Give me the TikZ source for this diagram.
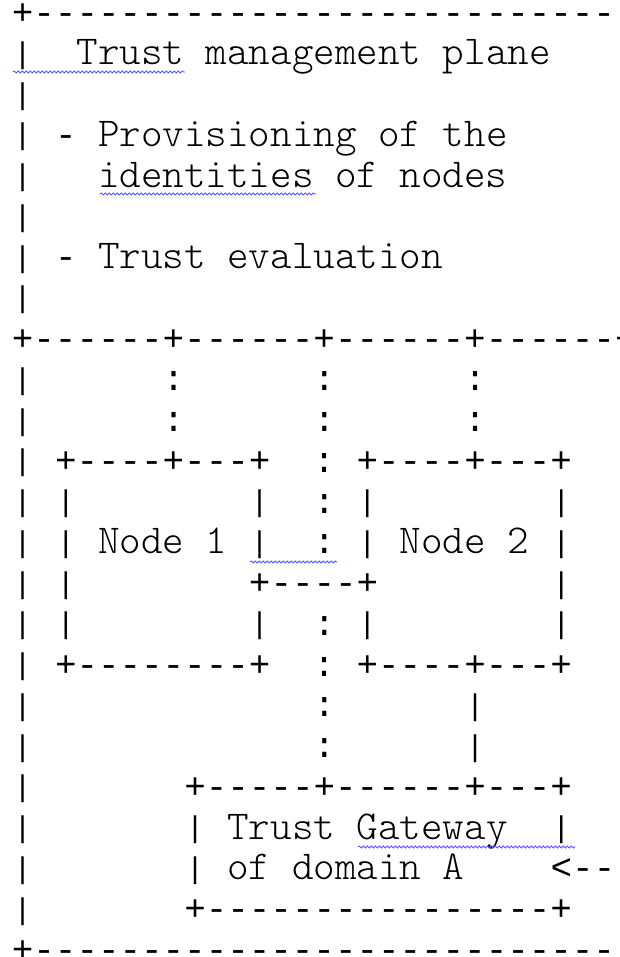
\documentclass[tikz,border=0pt]{standalone}
\usepackage{fontspec}
\usetikzlibrary{decorations.pathmorphing}
\newfontfamily\boxfont{Liberation Mono}

% character cell: 21.55pt wide, rows 40.74pt apart
\newcommand{\rowy}[1]{932.74pt-(#1-1)*40.74pt}
\newcommand{\colx}[1]{11.9pt+(#1)*21.55pt}
% line-drawing characters, one per group, in a font of the same advance
\newcommand{\bx}{\boxfont\fontsize{35.9}{40.74}\selectfont}
\newcommand{\hb}[1]{\foreach \i in {1,...,#1}{{\bx-}}}
% shorter bar, so that bars of stacked rows stay apart
\newcommand{\vb}{\makebox[21.55pt]{\raisebox{1.5pt}{\boxfont\fontsize{30}{34}\selectfont|}}}
\newcommand{\pl}{{\bx+}}
\newcommand{\co}{{\bx:}}
\newcommand{\dsh}{{\bx-}}
\newcommand{\lt}{{\bx<}}
\definecolor{spell}{RGB}{85,85,255}

\tikzset{
  ascii/.style={anchor=base west, inner sep=0pt, outer sep=0pt,
    font=\ttfamily\fontseries{l}\fontsize{41.05}{40.74}\selectfont, text=black},
  squiggle/.style={draw=spell, line width=0.8pt,
    decorate, decoration={snake, segment length=4pt, amplitude=1.1pt}}
}

\begin{document}
\begin{tikzpicture}[x=1pt,y=1pt]
\fill[white] (0,0) rectangle (620,957);
\useasboundingbox (0,0) rectangle (620,957);

\node[ascii] (l1)  at ({\colx{0}},{\rowy{1}})  {\pl\hb{28}};
\node[ascii] (l2)  at ({\colx{0}},{\rowy{2}})  {\vb~~Trust~management~plane};
\node[ascii] (l3)  at ({\colx{0}},{\rowy{3}})  {\vb};
\node[ascii] (l4)  at ({\colx{0}},{\rowy{4}})  {\vb~\dsh~Provisioning~of~the};
\node[ascii] (l5)  at ({\colx{0}},{\rowy{5}})  {\vb~~~identities~of~nodes};
\node[ascii] (l6)  at ({\colx{0}},{\rowy{6}})  {\vb};
\node[ascii] (l7)  at ({\colx{0}},{\rowy{7}})  {\vb~\dsh~Trust~evaluation};
\node[ascii] (l8)  at ({\colx{0}},{\rowy{8}})  {\vb};
\node[ascii] (l9)  at ({\colx{0}},{\rowy{9}})  {\pl\hb{6}\pl\hb{6}\pl\hb{6}\pl\hb{6}\pl};
\node[ascii] (l10) at ({\colx{0}},{\rowy{10}}) {\vb~~~~~~\co~~~~~~\co~~~~~~\co};
\node[ascii] (l11) at ({\colx{0}},{\rowy{11}}) {\vb~~~~~~\co~~~~~~\co~~~~~~\co};
\node[ascii] (l12) at ({\colx{0}},{\rowy{12}}) {\vb~\pl\hb{4}\pl\hb{3}\pl~~\co~\pl\hb{4}\pl\hb{3}\pl};
\node[ascii] (l13) at ({\colx{0}},{\rowy{13}}) {\vb~\vb~~~~~~~~\vb~~\co~\vb~~~~~~~~\vb};
\node[ascii] (l14) at ({\colx{0}},{\rowy{14}}) {\vb~\vb~Node~1~\vb~~\co~\vb~Node~2~\vb};
\node[ascii] (l15) at ({\colx{0}},{\rowy{15}}) {\vb~\vb~~~~~~~~\pl\hb{4}\pl~~~~~~~~\vb};
\node[ascii] (l16) at ({\colx{0}},{\rowy{16}}) {\vb~\vb~~~~~~~~\vb~~\co~\vb~~~~~~~~\vb};
\node[ascii] (l17) at ({\colx{0}},{\rowy{17}}) {\vb~\pl\hb{8}\pl~~\co~\pl\hb{4}\pl\hb{3}\pl};
\node[ascii] (l18) at ({\colx{0}},{\rowy{18}}) {\vb~~~~~~~~~~~~~\co~~~~~~\vb};
\node[ascii] (l19) at ({\colx{0}},{\rowy{19}}) {\vb~~~~~~~~~~~~~\co~~~~~~\vb};
\node[ascii] (l20) at ({\colx{0}},{\rowy{20}}) {\vb~~~~~~~\pl\hb{5}\pl\hb{6}\pl\hb{3}\pl};
\node[ascii] (l21) at ({\colx{0}},{\rowy{21}}) {\vb~~~~~~~\vb~Trust~Gateway~~\vb};
\node[ascii] (l22) at ({\colx{0}},{\rowy{22}}) {\vb~~~~~~~\vb~of~domain~A~~~~\lt\hb{6}};
\node[ascii] (l23) at ({\colx{0}},{\rowy{23}}) {\vb~~~~~~~\pl\hb{16}\pl};
\node[ascii] (l24) at ({\colx{0}},{\rowy{24}}) {\pl\hb{28}};

% spell-check underlines
\coordinate (s1a) at (13,885);
\coordinate (s1b) at (185,885);
\coordinate (s2a) at (100,763);
\coordinate (s2b) at (316,763);
\coordinate (s3a) at (250,{957-562});
\coordinate (s3b) at (337,{957-562});
\coordinate (s4a) at (358,{957-847});
\coordinate (s4b) at (575,{957-847});
\path[squiggle] (s1a) -- (s1b);
\path[squiggle] (s2a) -- (s2b);
\path[squiggle] (s3a) -- (s3b);
\path[squiggle] (s4a) -- (s4b);
\end{tikzpicture}
\end{document}
